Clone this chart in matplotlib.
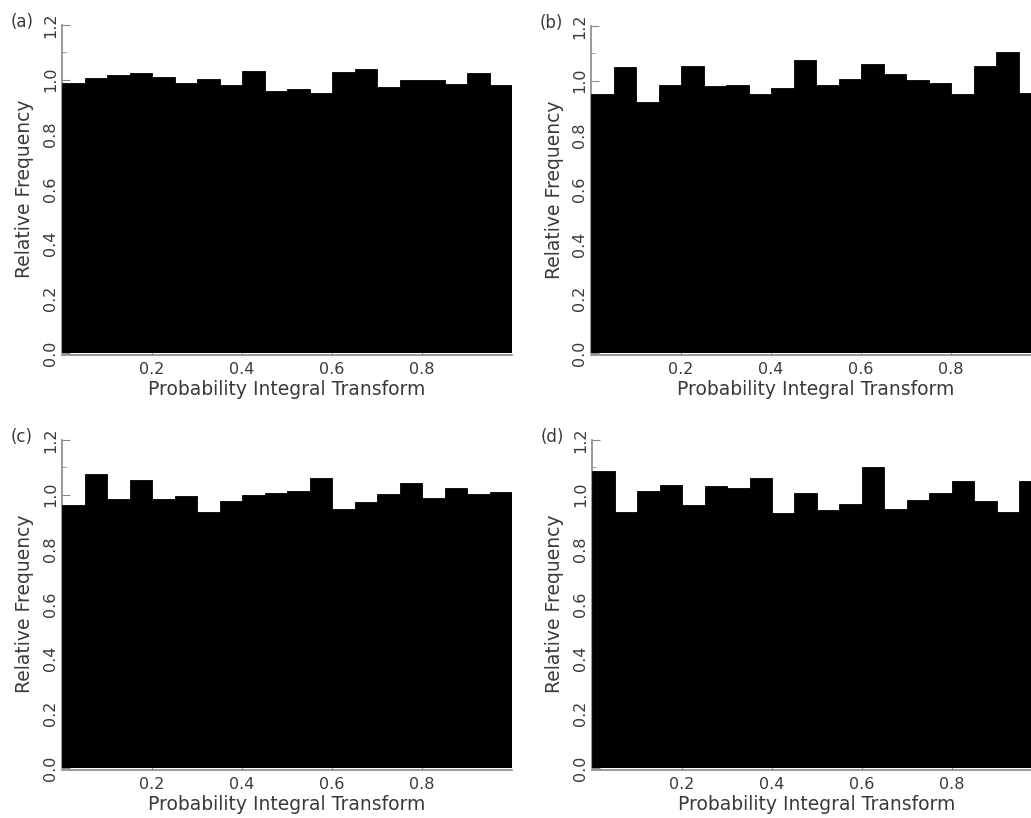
import numpy as np
import matplotlib
matplotlib.use("Agg")
import matplotlib.pyplot as plt

# PIT histograms, 20 equal bins on [0, 1]
bin_edges = np.linspace(0.0, 1.0, 21)

freq_a = [0.987, 1.005, 1.018, 1.024, 1.010, 0.988, 1.002, 0.979, 1.033, 0.960,
          0.965, 0.950, 1.028, 1.039, 0.974, 1.000, 0.999, 0.985, 1.023, 0.980]
freq_b = [0.952, 1.048, 0.922, 0.983, 1.055, 0.978, 0.985, 0.949, 0.974, 1.076,
          0.984, 1.005, 1.062, 1.023, 1.001, 0.990, 0.950, 1.055, 1.105, 0.955]
freq_c = [0.961, 1.074, 0.983, 1.054, 0.985, 0.996, 0.937, 0.977, 0.999, 1.005,
          1.015, 1.062, 0.946, 0.973, 1.001, 1.044, 0.987, 1.026, 1.001, 1.009]
freq_d = [1.085, 0.937, 1.015, 1.034, 0.962, 1.030, 1.023, 1.060, 0.934, 1.007,
          0.944, 0.967, 1.102, 0.948, 0.979, 1.005, 1.050, 0.977, 0.935, 1.049]

panel_names = ["(a)", "(b)", "(c)", "(d)"]
xticks = [0.2, 0.4, 0.6, 0.8]
yticks = [0.0, 0.2, 0.4, 0.6, 0.8, 1.0, 1.2]

txt = "#3a3a3a"
axcol = "#888888"

W, H = 1031, 818
fig = plt.figure(figsize=(W / 100, H / 100), dpi=100)

# axes boxes in pixels: left, top(y=1.2), right, bottom(y=0)
boxes = [(62, 25, 512, 353), (591, 26, 1041, 353),
         (62, 440, 512, 768), (592, 440, 1042, 768)]

for freq, name, (l, t, r, b) in zip([freq_a, freq_b, freq_c, freq_d], panel_names, boxes):
    ax = fig.add_axes([l / W, 1 - b / H, (r - l) / W, (b - t) / H])
    ax.bar(bin_edges[:-1], freq, width=np.diff(bin_edges), align="edge",
           color="black", edgecolor="black", linewidth=0.6, zorder=3)
    ax.set_xlim(0, 1)
    ax.set_ylim(0, 1.2)
    for s in ["top", "right"]:
        ax.spines[s].set_visible(False)
    for s in ["left", "bottom"]:
        ax.spines[s].set_color(axcol)
        ax.spines[s].set_linewidth(1.2)
    ax.spines["bottom"].set_position(("outward", 1.5))
    ax.set_xticks(xticks)
    ax.set_xticklabels(["%.1f" % v for v in xticks])
    ax.set_yticks(yticks)
    ax.set_yticklabels(["%.1f" % v for v in yticks], rotation=90, va="center")
    ax.set_yticks(np.arange(0.1, 1.2, 0.2), minor=True)
    ax.tick_params(which="both", direction="in", color=axcol, labelcolor=txt, labelsize=11.5)
    ax.tick_params(axis="y", which="major", length=6, pad=3)
    ax.tick_params(axis="y", which="minor", length=3)
    ax.tick_params(axis="x", length=6, pad=5)
    ax.set_xlabel("Probability Integral Transform", fontsize=13.5, color=txt, labelpad=2)
    ax.set_ylabel("Relative Frequency", fontsize=13.5, color=txt, labelpad=6)
    fig.text((l - 40) / W, 1 - (t - 3) / H, name, fontsize=12, color=txt,
             ha="center", va="center")

fig.savefig("out.png", dpi=100)
